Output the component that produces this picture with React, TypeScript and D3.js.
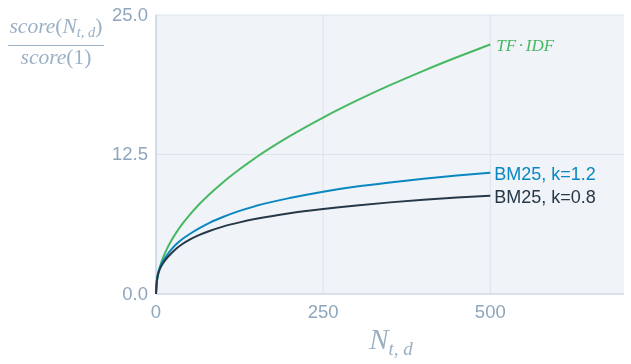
import React, { useRef, useEffect } from 'react';
import * as d3 from 'd3';

// term count N_{t,d} and score ratio
const termCounts = [0, 1, 2, 4, 7, 11, 16, 23, 31, 40, 51, 65, 80, 100, 125, 150, 200, 250, 300, 350, 400, 450, 500];
const tfIdf = [0, 1.0, 1.41, 2.0, 2.65, 3.32, 4.0, 4.8, 5.57, 6.32, 7.14, 8.06, 8.94, 10.0, 11.18, 12.25, 14.14, 15.81, 17.32, 18.71, 20.0, 21.21, 22.36];
const bm25k12 = [0, 1.0, 1.5, 2.05, 2.55, 3.0, 3.45, 4.0, 4.5, 4.95, 5.4, 5.9, 6.38, 6.9, 7.45, 7.9, 8.6, 9.17, 9.63, 10.0, 10.33, 10.62, 10.87];
const bm25k08 = [0, 1.0, 1.45, 1.95, 2.4, 2.8, 3.2, 3.65, 4.1, 4.5, 4.9, 5.3, 5.65, 6.04, 6.42, 6.74, 7.24, 7.62, 7.94, 8.21, 8.44, 8.64, 8.81];

const seriesNames = ['TF·IDF', 'BM25, k=1.2', 'BM25, k=0.8'];
const seriesColors = ['#48b863', '#0a87c1', '#263848'];
const yTicks = [0, 12.5, 25];
const yTickLabels = ['0.0', '12.5', '25.0'];
const xTicks = [0, 250, 500];

function App() {
    const chartRef = useRef<SVGSVGElement>(null);

    useEffect(() => {
        const width = 631;
        const height = 364;
        const margin = { top: 15, right: 7, bottom: 70, left: 156 };
        const labelColor = '#8ea6bd';

        const svg = d3.select(chartRef.current);
        svg.selectAll('*').remove();

        const x = d3.scaleLinear().domain([0, 700]).range([margin.left, width - margin.right]);
        const y = d3.scaleLinear().domain([0, 25]).range([height - margin.bottom, margin.top]);

        // plot background
        svg.append('rect')
            .attr('x', x(0))
            .attr('y', y(25))
            .attr('width', x(700) - x(0))
            .attr('height', y(0) - y(25))
            .attr('fill', '#f0f4f8');

        // grid
        svg.append('g')
            .selectAll('line')
            .data(xTicks.slice(1))
            .enter()
            .append('line')
            .attr('x1', (d) => x(d))
            .attr('x2', (d) => x(d))
            .attr('y1', y(0))
            .attr('y2', y(25))
            .attr('stroke', '#dbe3eb')
            .attr('stroke-width', 1);

        svg.append('g')
            .selectAll('line')
            .data(yTicks.slice(1))
            .enter()
            .append('line')
            .attr('x1', x(0))
            .attr('x2', x(700))
            .attr('y1', (d) => y(d))
            .attr('y2', (d) => y(d))
            .attr('stroke', '#dbe3eb')
            .attr('stroke-width', 1);

        // axis lines
        svg.append('line')
            .attr('x1', x(0)).attr('x2', x(0))
            .attr('y1', y(0)).attr('y2', y(25))
            .attr('stroke', '#b7c9d8').attr('stroke-width', 1.2);
        svg.append('line')
            .attr('x1', x(0)).attr('x2', x(700))
            .attr('y1', y(0)).attr('y2', y(0))
            .attr('stroke', '#b7c9d8').attr('stroke-width', 1.2);

        // tick labels
        svg.append('g')
            .selectAll('text')
            .data(yTicks)
            .enter()
            .append('text')
            .attr('x', 148)
            .attr('y', (d) => y(d) - 1)
            .attr('dominant-baseline', 'central')
            .attr('text-anchor', 'end')
            .attr('fill', labelColor)
            .style('font-family', '"Liberation Sans", Arial, sans-serif')
            .style('font-size', '18.5px')
            .text((d, i) => yTickLabels[i]);

        svg.append('g')
            .selectAll('text')
            .data(xTicks)
            .enter()
            .append('text')
            .attr('x', (d) => x(d))
            .attr('y', 311)
            .attr('dominant-baseline', 'central')
            .attr('text-anchor', 'middle')
            .attr('fill', labelColor)
            .style('font-family', '"Liberation Sans", Arial, sans-serif')
            .style('font-size', '18.5px')
            .text((d) => d);

        // lines
        const allSeries = [tfIdf, bm25k12, bm25k08];
        const line = d3.line<number>()
            .x((d, i) => x(termCounts[i]))
            .y((d) => y(d))
            .curve(d3.curveMonotoneX);

        allSeries.forEach((values, s) => {
            svg.append('path')
                .datum(values)
                .attr('d', line)
                .attr('fill', 'none')
                .attr('stroke', seriesColors[s])
                .attr('stroke-width', 2);
        });

        // line labels
        const last = termCounts.length - 1;
        const tfLabel = svg.append('text')
            .attr('x', x(termCounts[last]) + 6)
            .attr('y', y(tfIdf[last]) + 1)
            .attr('dominant-baseline', 'central')
            .attr('fill', seriesColors[0])
            .style('font-family', '"Liberation Serif", "DejaVu Serif", serif')
            .style('font-style', 'italic')
            .style('font-size', '17px');
        tfLabel.append('tspan').text('TF');
        tfLabel.append('tspan').attr('dx', 2).style('font-style', 'normal').text('·');
        tfLabel.append('tspan').attr('dx', 2).text('IDF');

        [bm25k12, bm25k08].forEach((values, s) => {
            svg.append('text')
                .attr('x', x(termCounts[last]) + 4)
                .attr('y', y(values[last]) + 1)
                .attr('dominant-baseline', 'central')
                .attr('fill', seriesColors[s + 1])
                .style('font-family', '"Liberation Sans", Arial, sans-serif')
                .style('font-size', '18px')
                .text(seriesNames[s + 1]);
        });

        // y title: score(N_{t,d}) / score(1)
        const serif = '"Liberation Serif", "DejaVu Serif", serif';
        const titleColor = '#9bb0c5';
        const num = svg.append('text')
            .attr('x', 56)
            .attr('y', 33)
            .attr('text-anchor', 'middle')
            .attr('fill', titleColor)
            .style('font-family', serif)
            .style('font-size', '21.5px');
        num.append('tspan').style('font-style', 'italic').text('score');
        num.append('tspan').text('(');
        num.append('tspan').style('font-style', 'italic').text('N');
        num.append('tspan').attr('dy', 4).style('font-style', 'italic').style('font-size', '14.5px').text('t, d');
        num.append('tspan').attr('dy', -4).text(')');

        svg.append('line')
            .attr('x1', 8).attr('x2', 104)
            .attr('y1', 45.5).attr('y2', 45.5)
            .attr('stroke', titleColor).attr('stroke-width', 1.2);

        const den = svg.append('text')
            .attr('x', 56)
            .attr('y', 64)
            .attr('text-anchor', 'middle')
            .attr('fill', titleColor)
            .style('font-family', serif)
            .style('font-size', '21.5px');
        den.append('tspan').style('font-style', 'italic').text('score');
        den.append('tspan').text('(1)');

        // x title: N_{t,d}
        const xt = svg.append('text')
            .attr('x', 391)
            .attr('y', 349)
            .attr('text-anchor', 'middle')
            .attr('fill', titleColor)
            .style('font-family', serif)
            .style('font-style', 'italic')
            .style('font-size', '29px');
        xt.append('tspan').text('N');
        xt.append('tspan').attr('dy', 6).style('font-size', '19px').text('t, d');
    }, []);

    return (
        <div style={{ position: 'fixed', left: 0, top: 0 }}>
            <svg ref={chartRef} width={631} height={364} style={{ display: 'block' }} />
        </div>
    );
}

export default App;
